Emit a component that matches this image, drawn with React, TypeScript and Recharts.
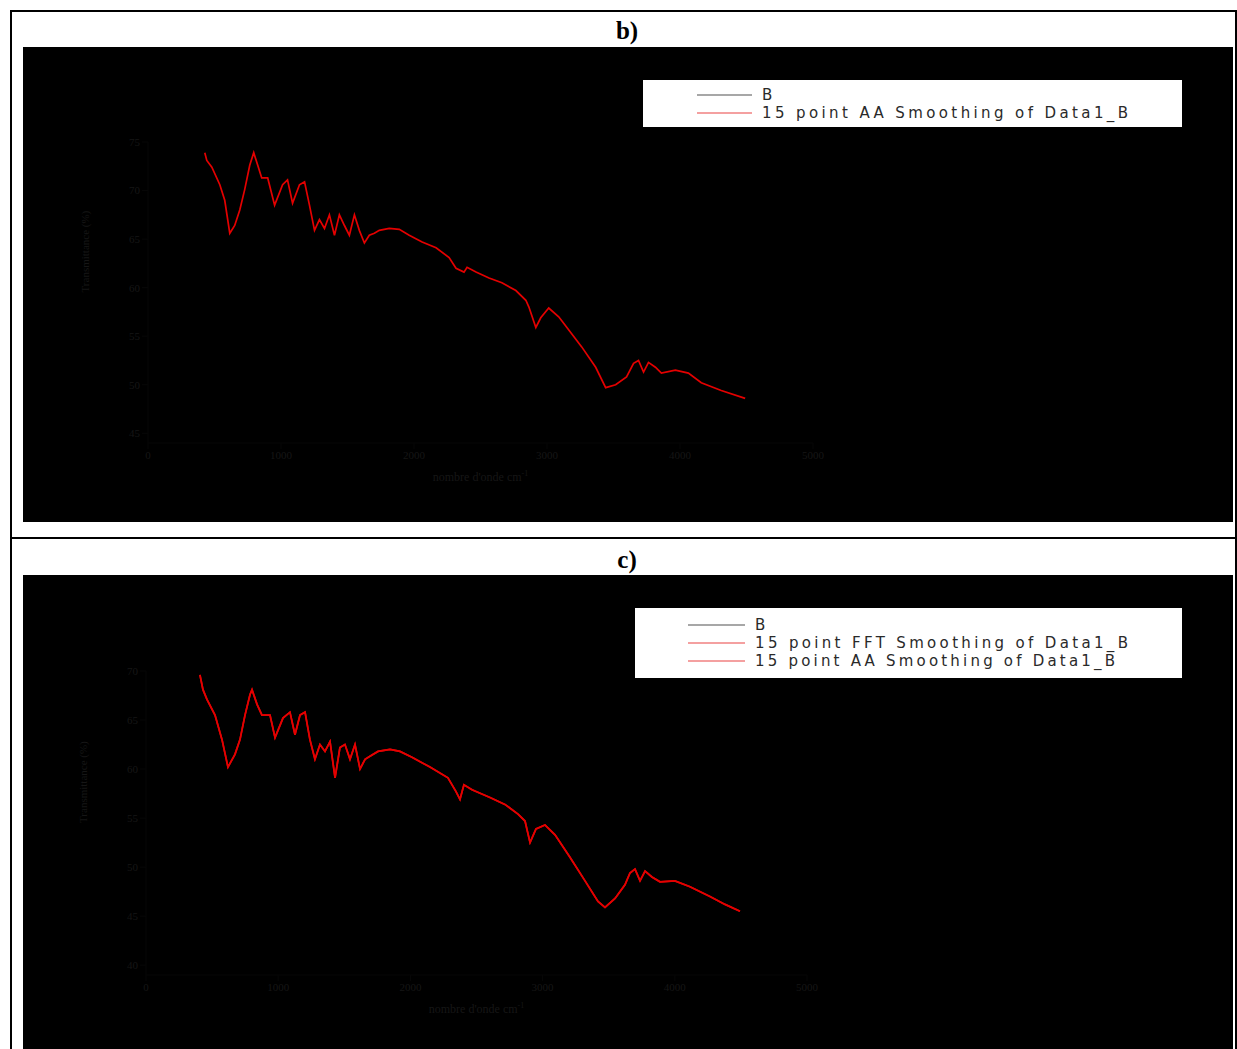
import { LineChart, Line, XAxis, YAxis, Label } from "recharts"

// panel b) — wavenumber (cm-1) and 15 point AA smoothing of Data1_B
const wavenumberB = [
    427, 442, 480, 540, 577, 615, 652, 690, 727, 765, 795, 825, 855, 900, 952, 1012, 1049, 1087,
    1139, 1177, 1214, 1252, 1289, 1327, 1364, 1402, 1439, 1477, 1514, 1552, 1589, 1627, 1664,
    1702, 1739, 1814, 1889, 1964, 2061, 2166, 2264, 2316, 2376, 2399, 2466, 2564, 2661, 2766,
    2841, 2864, 2916, 2953, 3013, 3088, 3111, 3261, 3366, 3441, 3516, 3598, 3651, 3688, 3726,
    3763, 3815, 3860, 3965, 4063, 4160, 4310, 4490,
]
const aaB = [
    73.9, 73.1, 72.4, 70.6, 69.0, 65.6, 66.4, 68.0, 70.1, 72.6, 73.9, 72.6, 71.3, 71.3, 68.5, 70.6,
    71.1, 68.7, 70.6, 70.9, 68.5, 65.9, 67.0, 66.1, 67.5, 65.4, 67.5, 66.4, 65.4, 67.5, 65.9, 64.6,
    65.4, 65.6, 65.9, 66.1, 66.0, 65.4, 64.7, 64.1, 63.1, 62.0, 61.6, 62.1, 61.6, 61.0, 60.5, 59.7,
    58.7, 58.0, 55.9, 56.9, 57.9, 57.0, 56.6, 53.9, 51.8, 49.7, 50.0, 50.8, 52.2, 52.5, 51.3,
    52.3, 51.8, 51.2, 51.5, 51.2, 50.2, 49.4, 48.6,
]

// panel c) — FFT and AA smoothing coincide on the picture
const wavenumberC = [
    408, 431, 461, 522, 575, 620, 673, 711, 749, 787, 802, 840, 877, 938, 976, 1036, 1089, 1127,
    1165, 1203, 1240, 1278, 1316, 1354, 1392, 1430, 1467, 1505, 1543, 1581, 1619, 1657, 1694,
    1755, 1846, 1921, 2012, 2148, 2284, 2345, 2375, 2405, 2466, 2602, 2715, 2814, 2867, 2905,
    2950, 3018, 3094, 3207, 3321, 3419, 3472, 3548, 3623, 3661, 3699, 3737, 3775, 3827, 3888,
    4001, 4115, 4266, 4380, 4493,
]
const fftC = [
    69.6, 68.1, 67.1, 65.5, 63.0, 60.2, 61.5, 63.0, 65.5, 67.6, 68.1, 66.6, 65.5, 65.5, 63.2, 65.2,
    65.8, 63.5, 65.5, 65.8, 63.0, 61.0, 62.5, 61.8, 62.8, 59.1, 62.2, 62.5, 61.0, 62.5, 60.0, 61.0,
    61.3, 61.8, 62.0, 61.8, 61.2, 60.2, 59.1, 57.7, 56.9, 58.4, 57.9, 57.1, 56.4, 55.4, 54.7, 52.5,
    53.9, 54.3, 53.3, 51.0, 48.6, 46.5, 45.9, 46.8, 48.2, 49.4, 49.8, 48.6, 49.6, 49.0, 48.5,
    48.6, 48.0, 47.0, 46.2, 45.5,
]
const aaC = fftC

const xTicks = [0, 1000, 2000, 3000, 4000, 5000]
const yTicksB = [45, 50, 55, 60, 65, 70, 75]
const yTicksC = [40, 45, 50, 55, 60, 65, 70]

const dataB = wavenumberB.map((x, i) => ({ x, raw: aaB[i], aa: aaB[i] }))
const dataC = wavenumberC.map((x, i) => ({ x, raw: fftC[i], fft: fftC[i], aa: aaC[i] }))

const dimText = "#161616"
const dimLine = "#070707"
const tickStyle = { fill: dimText, fontSize: 11, fontFamily: "Liberation Serif" }

const XLabel = (props: any) => {
    const { x, y, width, height } = props.viewBox
    return (
        <text
            x={x + width / 2}
            y={y + height + 8}
            textAnchor="middle"
            fill={dimText}
            fontSize={12}
            fontFamily="Liberation Serif"
        >
            nombre d'onde cm
            <tspan dy={-5} fontSize={8}>-1</tspan>
        </text>
    )
}

type Row = { label: string; color: string; len: number }

const LegendBox = ({ left, top, width, height, rows, lineX, textX, rowY }: {
    left: number; top: number; width: number; height: number; rows: Row[];
    lineX: [number, number]; textX: number; rowY: number[]
}) => (
    <svg
        width={width}
        height={height}
        style={{ position: "absolute", left, top, background: "#fff" }}
    >
        {rows.map((r, i) => (
            <g key={r.label}>
                <line x1={lineX[0]} x2={lineX[1]} y1={rowY[i]} y2={rowY[i]} stroke={r.color} strokeWidth={1.4} />
                <text
                    x={textX}
                    y={rowY[i] + 5}
                    fontSize={15}
                    fontFamily="DejaVu Sans"
                    fill="#2a2a2a"
                    textLength={r.len}
                    lengthAdjust="spacing"
                >
                    {r.label}
                </text>
            </g>
        ))}
    </svg>
)

const Title = ({ text, top }: { text: string; top: number }) => (
    <div
        style={{
            position: "absolute",
            left: 0,
            width: 1254,
            top,
            textAlign: "center",
            fontFamily: "Liberation Serif",
            fontWeight: "bold",
            fontSize: 25,
            lineHeight: "28px",
        }}
    >
        {text}
    </div>
)

const App = () => {
    return (
        <div style={{ position: "fixed", left: 0, top: 0, width: 1237, height: 1049, overflow: "hidden", background: "#fff" }}>
            <div style={{ position: "absolute", left: 10, top: 10, width: 1223, height: 1100, border: "2px solid #000" }} />
            <div style={{ position: "absolute", left: 10, top: 537, width: 1227, height: 2, background: "#000" }} />

            <Title text="b)" top={17} />
            <div style={{ position: "absolute", left: 23, top: 47, width: 1210, height: 475, background: "#000" }}>
                <LineChart width={1210} height={475} data={dataB} margin={{ top: 95, right: 420, bottom: 49, left: 65 }}>
                    <XAxis
                        dataKey="x"
                        type="number"
                        domain={[0, 5000]}
                        ticks={xTicks}
                        height={30}
                        tick={tickStyle}
                        axisLine={{ stroke: dimLine }}
                        tickLine={{ stroke: dimLine }}
                    >
                        <Label content={XLabel} />
                    </XAxis>
                    <YAxis
                        type="number"
                        domain={[44, 75]}
                        ticks={yTicksB}
                        width={60}
                        tick={tickStyle}
                        axisLine={{ stroke: dimLine }}
                        tickLine={{ stroke: dimLine }}
                        label={{ value: "Transmittance (%)", angle: -90, position: "insideLeft", dx: -8, fill: dimText, fontSize: 11, fontFamily: "Liberation Serif" }}
                    />
                    <Line dataKey="raw" stroke="#000" strokeWidth={1} dot={false} isAnimationActive={false} />
                    <Line dataKey="aa" stroke="#e40000" strokeWidth={1.7} dot={false} isAnimationActive={false} />
                </LineChart>
                <LegendBox
                    left={620}
                    top={33}
                    width={539}
                    height={47}
                    lineX={[54, 109]}
                    textX={119}
                    rowY={[15, 33]}
                    rows={[
                        { label: "B", color: "#8a8a8a", len: 11 },
                        { label: "15 point AA Smoothing of Data1_B", color: "#f08080", len: 366 },
                    ]}
                />
            </div>

            <Title text="c)" top={546} />
            <div style={{ position: "absolute", left: 23, top: 575, width: 1210, height: 480, background: "#000" }}>
                <LineChart width={1210} height={475} data={dataC} margin={{ top: 96, right: 426, bottom: 45, left: 63 }}>
                    <XAxis
                        dataKey="x"
                        type="number"
                        domain={[0, 5000]}
                        ticks={xTicks}
                        height={30}
                        tick={tickStyle}
                        axisLine={{ stroke: dimLine }}
                        tickLine={{ stroke: dimLine }}
                    >
                        <Label content={XLabel} />
                    </XAxis>
                    <YAxis
                        type="number"
                        domain={[39, 70]}
                        ticks={yTicksC}
                        width={60}
                        tick={tickStyle}
                        axisLine={{ stroke: dimLine }}
                        tickLine={{ stroke: dimLine }}
                        label={{ value: "Transmittance (%)", angle: -90, position: "insideLeft", dx: -8, fill: dimText, fontSize: 11, fontFamily: "Liberation Serif" }}
                    />
                    <Line dataKey="raw" stroke="#000" strokeWidth={1} dot={false} isAnimationActive={false} />
                    <Line dataKey="fft" stroke="#e40000" strokeWidth={1.7} dot={false} isAnimationActive={false} />
                    <Line dataKey="aa" stroke="#e40000" strokeWidth={1.7} dot={false} isAnimationActive={false} />
                </LineChart>
                <LegendBox
                    left={612}
                    top={33}
                    width={547}
                    height={70}
                    lineX={[53, 110]}
                    textX={120}
                    rowY={[17, 35, 53]}
                    rows={[
                        { label: "B", color: "#8a8a8a", len: 11 },
                        { label: "15 point FFT Smoothing of Data1_B", color: "#f08080", len: 373 },
                        { label: "15 point AA Smoothing of Data1_B", color: "#f08080", len: 360 },
                    ]}
                />
            </div>
        </div>
    )
}

export default App
